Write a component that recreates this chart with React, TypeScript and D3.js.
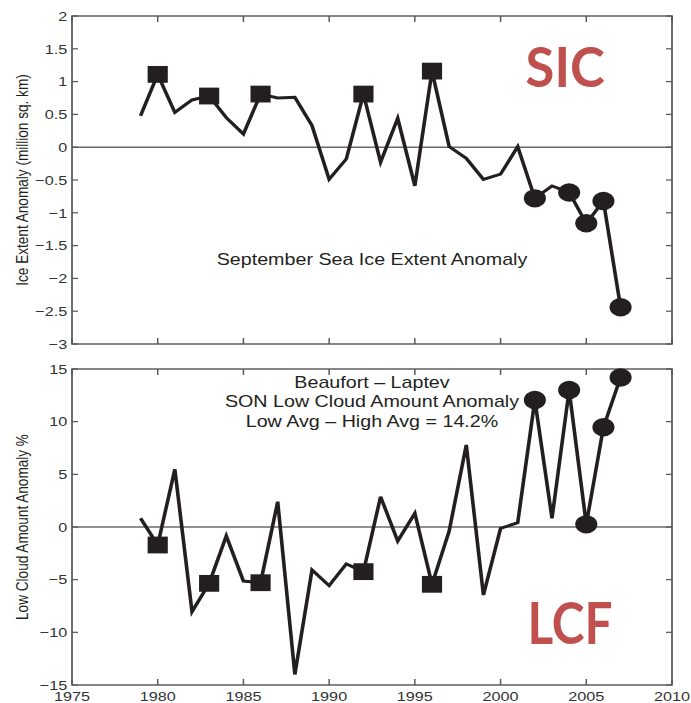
import React, { useRef, useEffect } from "react";
import * as d3 from "d3";

// September sea ice extent anomaly (million sq. km) and SON low cloud anomaly (%), 1979-2007
const years = [
  1979, 1980, 1981, 1982, 1983, 1984, 1985, 1986, 1987, 1988, 1989, 1990, 1991, 1992, 1993,
  1994, 1995, 1996, 1997, 1998, 1999, 2000, 2001, 2002, 2003, 2004, 2005, 2006, 2007,
];
const iceAnomaly = [
  0.48, 1.11, 0.53, 0.72, 0.78, 0.45, 0.2, 0.81, 0.75, 0.76, 0.33, -0.49, -0.18, 0.81, -0.23,
  0.44, -0.59, 1.16, 0.01, -0.17, -0.49, -0.41, 0.01, -0.78, -0.59, -0.69, -1.16, -0.82, -2.44,
];
const cloudAnomaly = [
  0.83, -1.71, 5.48, -8.04, -5.35, -0.85, -5.13, -5.29, 2.4, -14.0, -4.08, -5.57, -3.51, -4.24,
  2.88, -1.33, 1.3, -5.44, -0.4, 7.79, -6.46, -0.13, 0.41, 12.06, 0.83, 13.0, 0.25, 9.47, 14.2,
];
const highIceYears = [1980, 1983, 1986, 1992, 1996];
const lowIceYears = [2002, 2004, 2005, 2006, 2007];
const yearTicks = [1975, 1980, 1985, 1990, 1995, 2000, 2005, 2010];
const iceTicks = [-3, -2.5, -2, -1.5, -1, -0.5, 0, 0.5, 1, 1.5, 2];
const cloudTicks = [-15, -10, -5, 0, 5, 10, 15];
const cloudNote = ["Beaufort \u2013 Laptev", "SON Low Cloud Amount Anomaly", "Low Avg \u2013 High Avg = 14.2%"];

const W = 691;
const H = 703;
const SX = 1.2; // the figure is stretched horizontally
const VW = W / SX;
const FONT = "'Liberation Sans', Arial, Helvetica, sans-serif";
const TAG_FONT = "Lato, 'Open Sans', sans-serif";
const INK = "#231f20";
const RED = "#c0504d";

const fmt = (d: number) => (d < 0 ? "\u2212" + Math.abs(d) : String(d));

export default function App() {
  const svgRef = useRef<SVGSVGElement>(null);

  useEffect(() => {
    const svg = d3.select(svgRef.current);
    svg.selectAll("*").remove();

    const x = d3.scaleLinear().domain([1975, 2010]).range([60, 560]);

    const drawPanel = (
      yScale: d3.ScaleLinear<number, number>,
      ticks: number[],
      values: number[],
      yLabel: string,
      xLabels: boolean
    ) => {
      const g = svg.append("g");
      const [y0, y1] = yScale.range();
      const yMid = (y0 + y1) / 2;

      // zero line
      g.append("line")
        .attr("x1", x.range()[0])
        .attr("x2", x.range()[1])
        .attr("y1", yScale(0))
        .attr("y2", yScale(0))
        .attr("stroke", "#6b6b6b")
        .attr("stroke-width", 1.4);

      // ticks on all four sides
      yearTicks.forEach((t) => {
        g.append("line").attr("x1", x(t)).attr("x2", x(t)).attr("y1", y0).attr("y2", y0 - 6)
          .attr("stroke", "#555").attr("stroke-width", 1.2);
        g.append("line").attr("x1", x(t)).attr("x2", x(t)).attr("y1", y1).attr("y2", y1 + 6)
          .attr("stroke", "#555").attr("stroke-width", 1.2);
      });
      ticks.forEach((t) => {
        g.append("line").attr("x1", x.range()[0]).attr("x2", x.range()[0] + 5)
          .attr("y1", yScale(t)).attr("y2", yScale(t)).attr("stroke", "#555").attr("stroke-width", 1.2);
        g.append("line").attr("x1", x.range()[1]).attr("x2", x.range()[1] - 5)
          .attr("y1", yScale(t)).attr("y2", yScale(t)).attr("stroke", "#555").attr("stroke-width", 1.2);
      });

      g.append("rect")
        .attr("x", x.range()[0])
        .attr("y", y1)
        .attr("width", x.range()[1] - x.range()[0])
        .attr("height", y0 - y1)
        .attr("fill", "none")
        .attr("stroke", "#555")
        .attr("stroke-width", 1.4);

      g.selectAll("text.ytick")
        .data(ticks)
        .join("text")
        .attr("class", "ytick")
        .attr("x", 56)
        .attr("y", (d) => yScale(d))
        .attr("dy", "0.35em")
        .attr("text-anchor", "end")
        .attr("font-family", FONT)
        .attr("font-size", 13.5)
        .attr("fill", "#333")
        .text(fmt);

      if (xLabels) {
        g.selectAll("text.xtick")
          .data(yearTicks)
          .join("text")
          .attr("class", "xtick")
          .attr("x", (d) => x(d))
          .attr("y", 701.5)
          .attr("text-anchor", "middle")
          .attr("font-family", FONT)
          .attr("font-size", 13.5)
          .attr("fill", "#333")
          .text((d) => String(d));
      }

      g.append("text")
        .attr("transform", `translate(18.3,${yMid}) rotate(-90)`)
        .attr("dy", "0.35em")
        .attr("text-anchor", "middle")
        .attr("font-family", FONT)
        .attr("font-size", 13.6)
        .attr("fill", INK)
        .text(yLabel);

      const rows = years.map((yr, i) => ({ yr, v: values[i] }));
      const line = d3.line<{ yr: number; v: number }>()
        .x((d) => x(d.yr))
        .y((d) => yScale(d.v));

      g.append("path")
        .datum(rows)
        .attr("d", line)
        .attr("fill", "none")
        .attr("stroke", INK)
        .attr("stroke-width", 3)
        .attr("stroke-linejoin", "miter");

      g.selectAll("rect.sq")
        .data(rows.filter((d) => highIceYears.includes(d.yr)))
        .join("rect")
        .attr("class", "sq")
        .attr("x", (d) => x(d.yr) - 8.4)
        .attr("y", (d) => yScale(d.v) - 8.4)
        .attr("width", 16.8)
        .attr("height", 16.8)
        .attr("fill", INK);

      g.selectAll("circle.dot")
        .data(rows.filter((d) => lowIceYears.includes(d.yr)))
        .join("circle")
        .attr("class", "dot")
        .attr("cx", (d) => x(d.yr))
        .attr("cy", (d) => yScale(d.v))
        .attr("r", 9.2)
        .attr("fill", INK);

      return g;
    };

    const yIce = d3.scaleLinear().domain([-3, 2]).range([344, 16]);
    const yCloud = d3.scaleLinear().domain([-15, 15]).range([685, 369]);

    const top = drawPanel(yIce, iceTicks, iceAnomaly, "Ice Extent Anomaly (million sq. km)", false);
    const bottom = drawPanel(yCloud, cloudTicks, cloudAnomaly, "Low Cloud Amount Anomaly %", true);

    const cx = (x.range()[0] + x.range()[1]) / 2;

    top.append("text")
      .attr("x", cx)
      .attr("y", 265)
      .attr("text-anchor", "middle")
      .attr("font-family", FONT)
      .attr("font-size", 16.4)
      .attr("fill", INK)
      .text("September Sea Ice Extent Anomaly");

    bottom.selectAll("text.note")
      .data(cloudNote)
      .join("text")
      .attr("class", "note")
      .attr("x", cx)
      .attr("y", (d, i) => 388 + i * 19.5)
      .attr("text-anchor", "middle")
      .attr("font-family", FONT)
      .attr("font-size", 16.4)
      .attr("fill", INK)
      .text((d) => d);

    top.append("text")
      .attr("x", 471)
      .attr("y", 87)
      .attr("text-anchor", "middle")
      .attr("font-family", TAG_FONT)
      .attr("font-weight", "bold")
      .attr("font-size", 56)
      .attr("textLength", 66)
      .attr("lengthAdjust", "spacingAndGlyphs")
      .attr("fill", RED)
      .text("SIC");

    bottom.append("text")
      .attr("x", 475)
      .attr("y", 644)
      .attr("text-anchor", "middle")
      .attr("font-family", TAG_FONT)
      .attr("font-weight", "bold")
      .attr("font-size", 58)
      .attr("textLength", 71)
      .attr("lengthAdjust", "spacingAndGlyphs")
      .attr("fill", RED)
      .text("LCF");
  }, []);

  return (
    <svg
      ref={svgRef}
      width={W}
      height={H}
      viewBox={`0 0 ${VW} ${H}`}
      preserveAspectRatio="none"
      style={{ position: "absolute", left: 0, top: 0, background: "#fff" }}
    />
  );
}
